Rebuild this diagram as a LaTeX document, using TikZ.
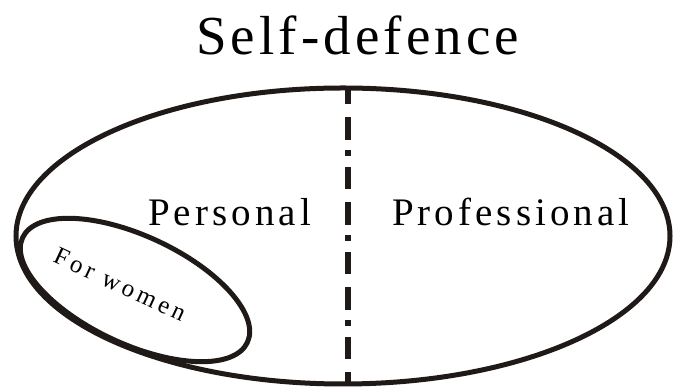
\documentclass[tikz,border=0pt]{standalone}
\usepackage{fontspec}
\usetikzlibrary{shapes.geometric}
\setmainfont{Liberation Serif}
\newfontfamily\titlefont[LetterSpace=7.5]{Liberation Serif}
\newfontfamily\labelfont[LetterSpace=10.5]{Liberation Serif}
\newfontfamily\smallfont[LetterSpace=16]{Liberation Serif}
\definecolor{ink}{RGB}{31,26,23}
\begin{document}
\begin{tikzpicture}[x=1pt,y=1pt,
  outline/.style={draw=ink,line width=5pt},
  divider/.style={draw=ink,line width=6pt,dash pattern=on 23pt off 10pt on 6pt off 11pt on 22pt off 13pt,dash phase=56pt},
  txt/.style={inner sep=0pt,outer sep=0pt,anchor=base west,text=black}]
\useasboundingbox (0,0) rectangle (674,387);
\node[outline,ellipse,minimum width=654pt,minimum height=296pt,inner sep=0pt] (big) at (343,151) {};
\node[outline,ellipse,minimum width=248pt,minimum height=108pt,inner sep=0pt,rotate=-25] (small) at (135,97) {};
\coordinate (dtop) at (348,299);
\coordinate (dbot) at (348,3);
\draw[divider] (dtop) -- (dbot);
\node[txt] (title) at (196,332) {\titlefont\fontsize{55}{60}\selectfont Self-defence};
\node[txt] (personal) at (148,161) {\labelfont\fontsize{39}{44}\selectfont Personal};
\node[txt] (prof) at (392,161) {\labelfont\fontsize{39}{44}\selectfont Professional};
\node[txt,rotate=-25] (women) at (52,125) {\smallfont\fontsize{25}{30}\selectfont For women};
\end{tikzpicture}
\end{document}
